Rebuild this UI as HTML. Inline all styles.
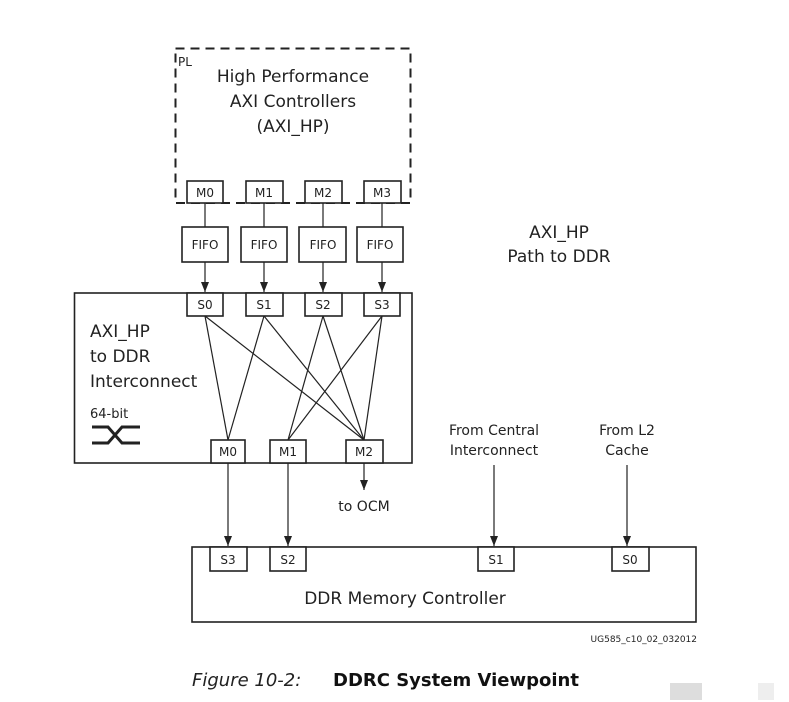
<!DOCTYPE html>
<html><head><meta charset="utf-8"><style>
body{margin:0;background:#fff;}
svg{display:block;font-family:"DejaVu Sans","Liberation Sans",sans-serif;}
</style></head><body>
<svg width="789" height="702" viewBox="0 0 789 702" xmlns="http://www.w3.org/2000/svg">
<defs><marker id="a" markerWidth="10" markerHeight="8" refX="10" refY="4" orient="auto" markerUnits="userSpaceOnUse" viewBox="0 0 10 8"><path d="M0,0 L10,4 L0,8 Z" fill="#222"/></marker></defs>
<g fill="none" stroke="#222">
<rect x="175.5" y="48.5" width="235" height="154.5" stroke-width="2" stroke-dasharray="9,6"/>
<g stroke-width="1.6" fill="#fff">
<rect x="187" y="181" width="36" height="22"/><rect x="246" y="181" width="37" height="22"/><rect x="305" y="181" width="37" height="22"/><rect x="364" y="181" width="37" height="22"/>
<rect x="182" y="227" width="46" height="35"/><rect x="241" y="227" width="46" height="35"/><rect x="299" y="227" width="47" height="35"/><rect x="357" y="227" width="46" height="35"/>
<rect x="74.5" y="293" width="337.5" height="170"/>
<rect x="187" y="293" width="36" height="23"/><rect x="246" y="293" width="37" height="23"/><rect x="305" y="293" width="37" height="23"/><rect x="364" y="293" width="36" height="23"/>
<rect x="211" y="440" width="34" height="23"/><rect x="270" y="440" width="36" height="23"/><rect x="346" y="440" width="37" height="23"/>
<rect x="192" y="547" width="504" height="75"/>
<rect x="210" y="547" width="37" height="24"/><rect x="270" y="547" width="36" height="24"/><rect x="478" y="547" width="36" height="24"/><rect x="612" y="547" width="37" height="24"/>
</g>
<g stroke-width="1.2">
<line x1="205" y1="203" x2="205" y2="227"/><line x1="264" y1="203" x2="264" y2="227"/><line x1="323" y1="203" x2="323" y2="227"/><line x1="382" y1="203" x2="382" y2="227"/>
<line x1="205" y1="262" x2="205" y2="292" marker-end="url(#a)"/><line x1="264" y1="262" x2="264" y2="292" marker-end="url(#a)"/><line x1="323" y1="262" x2="323" y2="292" marker-end="url(#a)"/><line x1="382" y1="262" x2="382" y2="292" marker-end="url(#a)"/>
<line x1="205" y1="316" x2="228" y2="440"/><line x1="205" y1="316" x2="364" y2="440"/>
<line x1="264" y1="316" x2="228" y2="440"/><line x1="264" y1="316" x2="364" y2="440"/>
<line x1="323" y1="316" x2="288" y2="440"/><line x1="323" y1="316" x2="364" y2="440"/>
<line x1="382" y1="316" x2="288" y2="440"/><line x1="382" y1="316" x2="364" y2="440"/>
<line x1="228" y1="463" x2="228" y2="546" marker-end="url(#a)"/><line x1="288" y1="463" x2="288" y2="546" marker-end="url(#a)"/>
<line x1="364" y1="463" x2="364" y2="490" marker-end="url(#a)"/>
<line x1="494" y1="465" x2="494" y2="546" marker-end="url(#a)"/><line x1="627" y1="465" x2="627" y2="546" marker-end="url(#a)"/>
</g>
<path d="M92 427 H108 L122 443 H140 M92 443 H108 L122 427 H140" stroke-width="3"/>
</g>
<g fill="#222" font-size="12" text-anchor="middle">
<text x="205" y="197">M0</text><text x="264" y="197">M1</text><text x="323" y="197">M2</text><text x="382" y="197">M3</text>
<text x="205" y="249">FIFO</text><text x="264" y="249">FIFO</text><text x="323" y="249">FIFO</text><text x="380" y="249">FIFO</text>
<text x="205" y="309">S0</text><text x="264" y="309">S1</text><text x="323" y="309">S2</text><text x="382" y="309">S3</text>
<text x="228" y="456">M0</text><text x="288" y="456">M1</text><text x="364" y="456">M2</text>
<text x="228" y="564">S3</text><text x="288" y="564">S2</text><text x="496" y="564">S1</text><text x="630" y="564">S0</text>
</g>
<g fill="#222" font-size="17" text-anchor="middle">
<text x="293" y="82">High Performance</text><text x="293" y="107">AXI Controllers</text><text x="293" y="132">(AXI_HP)</text>
<text x="559" y="238">AXI_HP</text><text x="559" y="262">Path to DDR</text>
<text x="405" y="604">DDR Memory Controller</text>
</g>
<g fill="#222" font-size="17">
<text x="90" y="337">AXI_HP</text><text x="90" y="362">to DDR</text><text x="90" y="387">Interconnect</text>
</g>
<text x="178" y="66" font-size="12" fill="#222">PL</text>
<text x="90" y="418" font-size="13" fill="#222">64-bit</text>
<g fill="#222" font-size="14" text-anchor="middle">
<text x="364" y="511">to OCM</text>
<text x="494" y="435">From Central</text><text x="494" y="455">Interconnect</text>
<text x="627" y="435">From L2</text><text x="627" y="455">Cache</text>
</g>
<text x="697" y="642" font-size="9" fill="#222" text-anchor="end">UG585_c10_02_032012</text>
<text x="192" y="686" font-size="18" fill="#222" font-style="italic">Figure 10-2:</text>
<text x="333" y="686" font-size="18" fill="#111" font-weight="bold">DDRC System Viewpoint</text>
<rect x="670" y="683" width="32" height="17" fill="#ddd"/>
<rect x="758" y="683" width="16" height="17" fill="#eee"/>
</svg>
</body></html>
